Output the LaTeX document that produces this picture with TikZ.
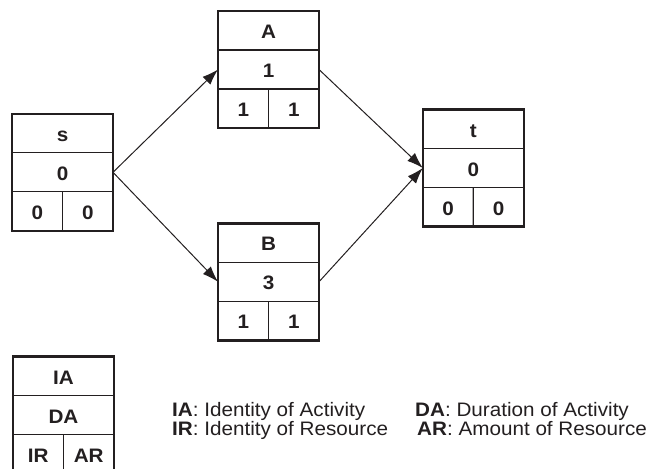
\documentclass[tikz,border=0pt]{standalone}
\usepackage{fontspec}
\setmainfont{Liberation Sans}[FakeStretch=1.06]
\usetikzlibrary{arrows.meta,calc}

\definecolor{ink}{HTML}{231F20}

\tikzset{
  x=1pt, y=-1pt,
  boxframe/.style={draw=ink, line width=2.4pt, minimum width=101pt,
    minimum height=117pt, inner sep=0pt, outer sep=0pt},
  divider/.style={draw=ink, line width=1.2pt},
  cell/.style={font=\fontsize{19.5}{22}\selectfont\bfseries, text=ink,
    inner sep=0pt, anchor=base, yshift=-8pt},
  link/.style={draw=ink, line width=1pt, -{Latex[length=16pt,width=11pt]}},
  legendtext/.style={font=\fontsize{19.5}{22}\selectfont, text=ink,
    anchor=base west, inner sep=0pt}
}

% activity box: name, centre, identity, duration, resource, amount
\newcommand\actbox[6]{%
  \node[boxframe] (#1) at (#2) {};
  \draw[divider] ($(#1.north west)!1/3!(#1.south west)$) -- ($(#1.north east)!1/3!(#1.south east)$);
  \draw[divider] ($(#1.north west)!2/3!(#1.south west)$) -- ($(#1.north east)!2/3!(#1.south east)$);
  \draw[divider] ($(#1.north)!2/3!(#1.south)$) -- (#1.south);
  \node[cell] (#1-ia) at ($(#1.north)!1/6!(#1.south)$) {#3};
  \node[cell] (#1-da) at (#1.center) {#4};
  \node[cell] (#1-ir) at ($(#1.north west)!5/6!(#1.south west)!0.5!($(#1.north)!5/6!(#1.south)$)$) {#5};
  \node[cell] (#1-ar) at ($(#1.north east)!5/6!(#1.south east)!0.5!($(#1.north)!5/6!(#1.south)$)$) {#6};
}

\begin{document}
\begin{tikzpicture}
  \useasboundingbox (0,0) rectangle (657,469);
  \clip (0,0) rectangle (657,469);

  \actbox{s}{62.5,172.3}{s}{0}{0}{0}
  \actbox{A}{268.5,69.5}{A}{1}{1}{1}
  \actbox{B}{268.5,281.8}{B}{3}{1}{1}
  \actbox{t}{473.3,168}{t}{0}{0}{0}

  \draw[link] (s.east) -- (A.west);
  \draw[link] (s.east) -- (B.west);
  \draw[link] (A.east) -- (t.west);
  \draw[link] (B.east) -- (t.west);

  % key
  \actbox{key}{63.5,415}{IA}{DA}{IR}{AR}
  \node[legendtext] (k1) at (172,416) {\textbf{IA}: Identity of Activity};
  \node[legendtext] (k2) at (415,416) {\textbf{DA}: Duration of Activity};
  \node[legendtext] (k3) at (172,435) {\textbf{IR}: Identity of Resource};
  \node[legendtext] (k4) at (417,435) {\textbf{AR}: Amount of Resource};
\end{tikzpicture}
\end{document}
